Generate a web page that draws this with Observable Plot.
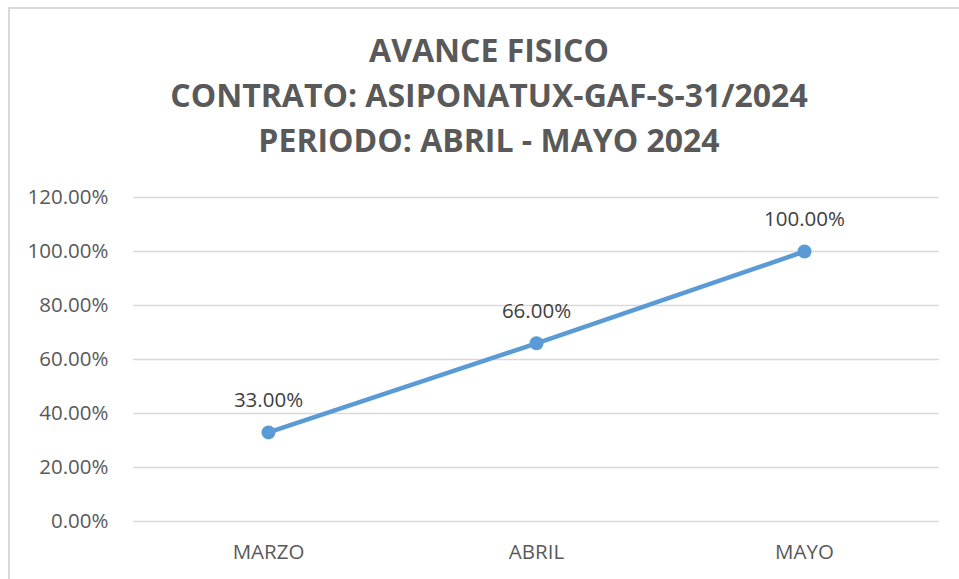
<!DOCTYPE html>
<html>
<head>
<meta charset="utf-8">
<script src="https://cdn.jsdelivr.net/npm/d3@7"></script>
<script src="https://cdn.jsdelivr.net/npm/@observablehq/plot@0.6"></script>
<style>
  html, body { margin: 0; padding: 0; background: #fff; }
  #wrap { position: relative; width: 959px; height: 579px; overflow: hidden; background: #fff; }
  #frame { position: absolute; left: 8px; top: 7px; width: 1000px; height: 700px; border: 2px solid #d9d9d9; box-sizing: border-box; }
  #title { position: absolute; left: 0; top: 27px; width: 978px; text-align: center; font-family: "Open Sans", sans-serif; font-weight: 700; font-size: 32px; line-height: 45px; color: #595959; }
  #chart { position: absolute; left: 0; top: 0; }
</style>
</head>
<body>
<div id="wrap">
  <div id="frame"></div>
  <div id="chart"></div>
  <div id="title"></div>
</div>
<script>
const titleLines = ["AVANCE FISICO", "CONTRATO: ASIPONATUX-GAF-S-31/2024", "PERIODO: ABRIL - MAYO 2024"];
const months = ["MARZO", "ABRIL", "MAYO"];
const avance = [0.33, 0.66, 1.00];
const yTicks = [0, 0.2, 0.4, 0.6, 0.8, 1.0, 1.2];

document.getElementById("title").innerHTML = titleLines.map(t => `<div>${t}</div>`).join("");

const data = months.map((m, i) => ({mes: m, valor: avance[i]}));
const pct = d3.format(".2%");
const blue = "#5B9BD5";

const chart = Plot.plot({
  width: 959,
  height: 579,
  marginTop: 197,
  marginBottom: 58,
  marginLeft: 133,
  marginRight: 20,
  style: {fontFamily: "Open Sans, sans-serif", fontSize: "20.5px", color: "#595959", background: "transparent"},
  x: {type: "point", domain: months, padding: 0.5, label: null, tickSize: 0, tickPadding: 23},
  y: {domain: [0, 1.2], ticks: yTicks, tickFormat: pct, label: null, tickSize: 0, tickPadding: 25},
  marks: [
    Plot.ruleY(yTicks, {stroke: "#d9d9d9", strokeWidth: 1.5}),
    Plot.line(data, {x: "mes", y: "valor", stroke: blue, strokeWidth: 4.5}),
    Plot.dot(data, {x: "mes", y: "valor", r: 7, fill: blue, stroke: "none"}),
    Plot.text(data, {x: "mes", y: "valor", text: d => pct(d.valor), dy: -32, fill: "#404040", fontSize: 20.5})
  ]
});
document.getElementById("chart").appendChild(chart);
</script>
</body>
</html>
